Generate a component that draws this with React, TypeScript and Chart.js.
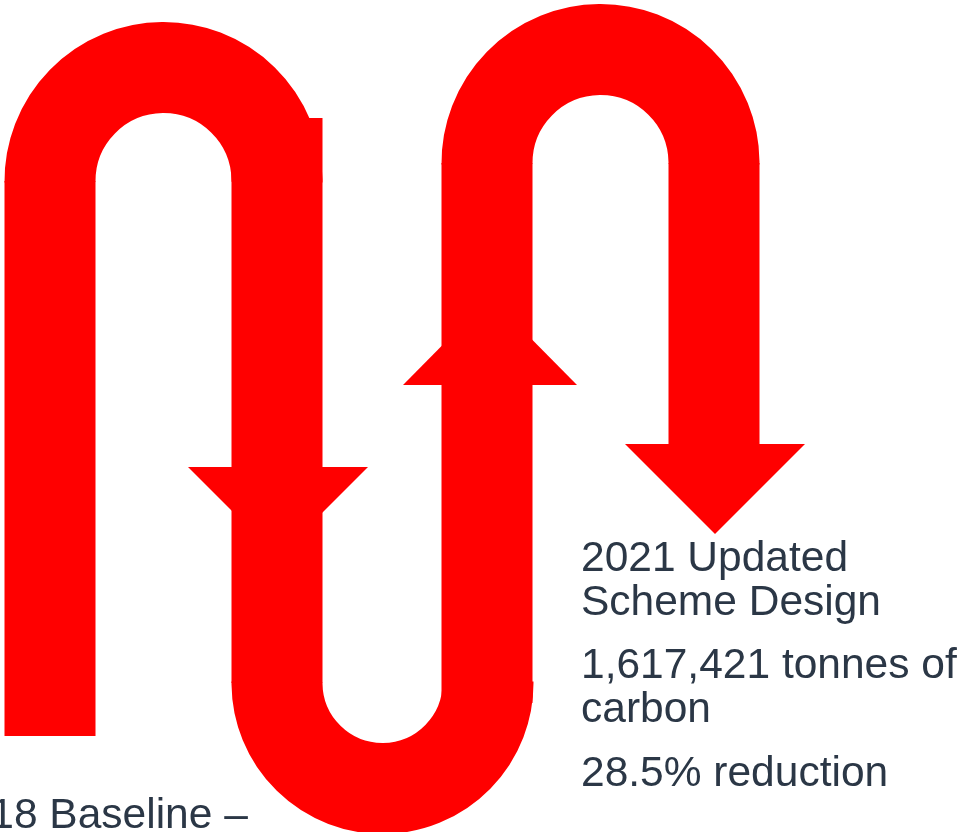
import React, { useEffect, useRef } from "react";
import { Chart, registerables } from "chart.js";

Chart.register(...registerables);

// Snake path: vertical legs (centre-line x, start y, end y)
const legX = [50, 277, 487, 714];
const legFrom = [736, 118, 703, 163];
const legTo = [181, 683, 163, 444];

// Half-circle bends (centre x, centre y, radius, side)
const arcCx = [163.5, 382.5, 600.5];
const arcCy = [181, 683, 163];
const arcR = [113.5, 105.5, 113.5];
const arcSide = ["top", "bottom", "top"];

// Arrow heads (centre x, base y, tip y, half base width)
const headX = [278, 490, 715];
const headBase = [467, 385, 444];
const headTip = [557, 297, 534];
const headHalf = [90, 87, 90];

// Texts
const updatedLines = [
  "2021 Updated",
  "Scheme Design",
  "1,617,421 tonnes of",
  "carbon",
  "28.5% reduction",
];
const updatedY = [571, 615, 678, 722, 786];
const baselineLines = ["2018 Baseline –"];
const baselineY = [828];

const STROKE = 91;
const RED = "#FF0000";
const TEXT = "#2B3746";
const FONT = '42.5px "Liberation Sans", Arial, sans-serif';
const UPDATED_X = 581;
const BASELINE_X = -57;

const snakePlugin = {
  id: "snakePlugin",
  afterDatasetsDraw(chart: any) {
    const { ctx } = chart;
    const xs = chart.scales.x;
    const ys = chart.scales.y;
    const px = (v: number) => xs.getPixelForValue(v);
    const py = (v: number) => ys.getPixelForValue(v);
    const scaleX = px(1) - px(0);
    ctx.save();
    // bends
    ctx.strokeStyle = RED;
    ctx.lineCap = "butt";
    ctx.lineWidth = STROKE * scaleX;
    arcCx.forEach((cx, i) => {
      ctx.beginPath();
      const r = arcR[i] * scaleX;
      if (arcSide[i] === "top") ctx.arc(px(cx), py(arcCy[i]), r, Math.PI - 0.01, 2 * Math.PI + 0.01);
      else ctx.arc(px(cx), py(arcCy[i]), r, -0.01, Math.PI + 0.01);
      ctx.stroke();
    });
    // arrow heads
    ctx.fillStyle = RED;
    headX.forEach((hx, i) => {
      ctx.beginPath();
      ctx.moveTo(px(hx - headHalf[i]), py(headBase[i]));
      ctx.lineTo(px(hx + headHalf[i]), py(headBase[i]));
      ctx.lineTo(px(hx), py(headTip[i]));
      ctx.closePath();
      ctx.fill();
    });
    // labels
    ctx.fillStyle = TEXT;
    ctx.font = FONT;
    ctx.textAlign = "left";
    ctx.textBaseline = "alphabetic";
    updatedLines.forEach((t, i) => ctx.fillText(t, px(UPDATED_X), py(updatedY[i])));
    baselineLines.forEach((t, i) => ctx.fillText(t, px(BASELINE_X), py(baselineY[i])));
    ctx.restore();
  },
};

export default function App() {
  const ref = useRef<HTMLCanvasElement | null>(null);
  useEffect(() => {
    if (!ref.current) return;
    const datasets = legX.map((x, i) => ({
      label: "leg " + (i + 1),
      data: [
        { x, y: legFrom[i] },
        { x, y: legTo[i] },
      ],
      borderColor: RED,
      backgroundColor: RED,
      borderWidth: STROKE,
      borderCapStyle: "butt" as const,
      pointRadius: 0,
      fill: false,
      tension: 0,
      clip: false as any,
    }));
    const chart = new Chart(ref.current, {
      type: "line",
      data: { datasets },
      options: {
        animation: false,
        responsive: false,
        maintainAspectRatio: false,
        layout: { padding: 0 },
        plugins: { legend: { display: false }, tooltip: { enabled: false } },
        scales: {
          x: { type: "linear", min: 0, max: 959, display: false },
          y: { type: "linear", min: 0, max: 832, reverse: true, display: false },
        },
      },
      plugins: [snakePlugin],
    });
    return () => chart.destroy();
  }, []);
  return (
    <div style={{ position: "absolute", left: 0, top: 0, width: 959, height: 832, background: "#fff" }}>
      <canvas ref={ref} width={959} height={832} style={{ width: 959, height: 832, display: "block" }} />
    </div>
  );
}
